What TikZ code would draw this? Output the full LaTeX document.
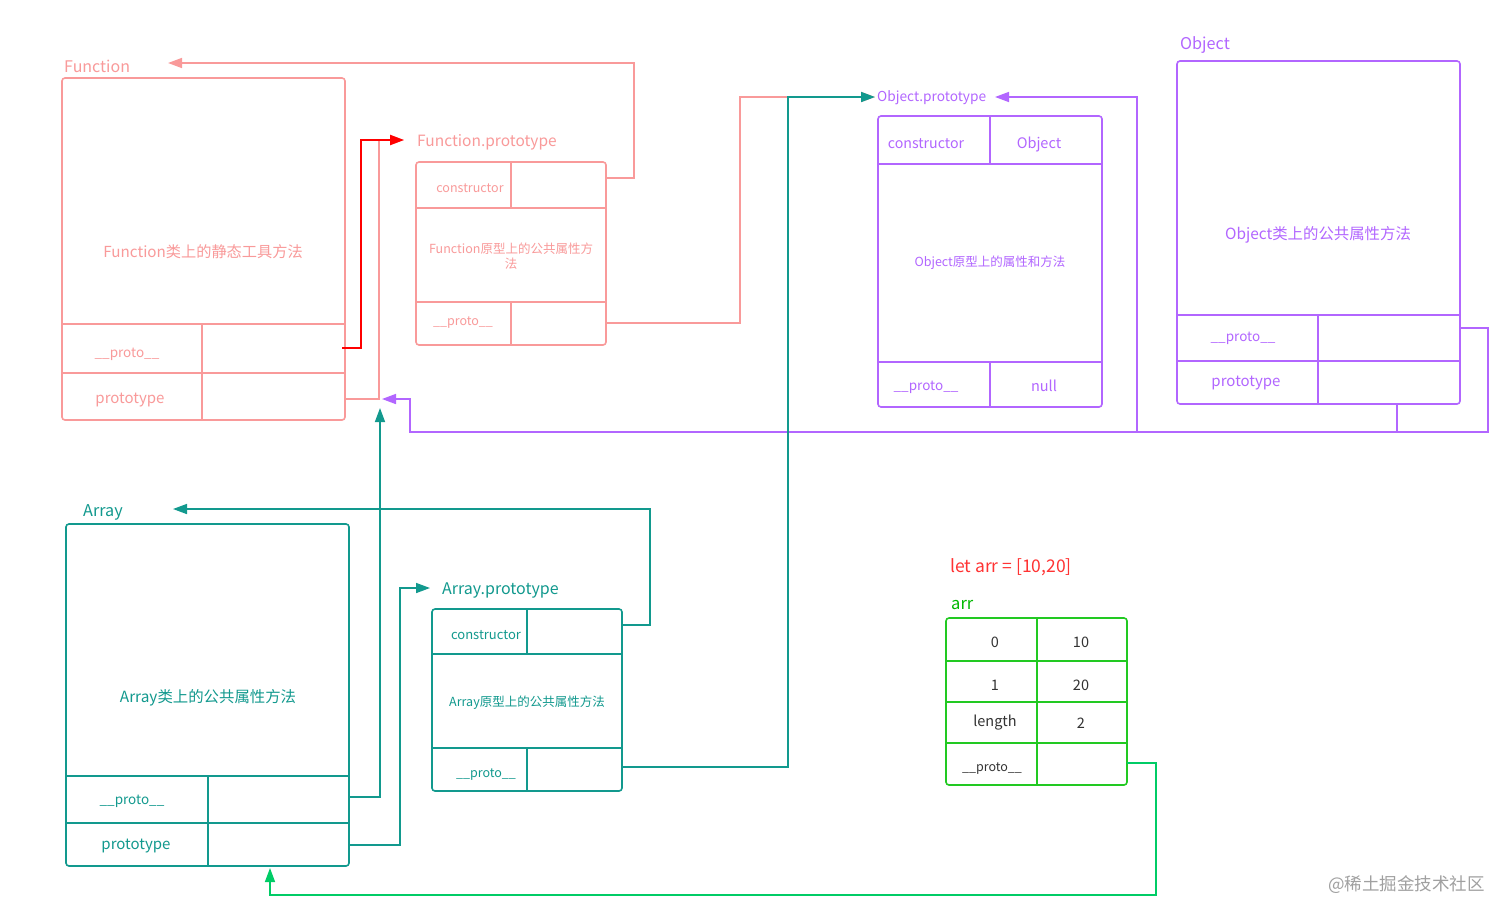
\documentclass[tikz,border=0pt]{standalone}
\usepackage{fontspec}
\setmainfont{Noto Sans CJK SC}
\usetikzlibrary{arrows.meta}
\definecolor{pk}{HTML}{F99A9A}
\definecolor{rd}{HTML}{FF0000}
\definecolor{pu}{HTML}{B266FF}
\definecolor{tl}{HTML}{12998E}
\definecolor{gb}{HTML}{22C922}
\definecolor{gl}{HTML}{00CC66}
\definecolor{ga}{HTML}{00B800}
\definecolor{lr}{HTML}{FF3333}
\definecolor{wm}{HTML}{A0A0A0}
\definecolor{cellt}{HTML}{333333}
\begin{document}
\begin{tikzpicture}[x=1pt,y=-1pt,
  frame/.style={draw, line width=1.6pt, rounded corners=3pt, inner sep=0pt},
  div/.style={line width=1.5pt},
  conn/.style={line width=1.5pt, -{Triangle[length=14pt,width=10pt]}},
  fs/.style={inner sep=0pt, font=\fontsize{#1}{#1}\selectfont},
  lbl/.style={fs=#1, anchor=west}]
\useasboundingbox[fill=white] (0,0) rectangle (1512,919);

% ---------- Function ----------
\node[frame, draw=pk, minimum width=283pt, minimum height=342pt] (F) at (203.5,249) {};
\draw[div, pk] (62,324) -- (345,324) (62,373) -- (345,373) (202,324) -- (202,420);
\node[lbl=16, text=pk] (Flbl) at (64,66) {Function};
\node[fs=15.2, text=pk] (Fbody) at (203,252) {Function类上的静态工具方法};
\node[fs=13.5, text=pk] (Fpk) at (127,354) {\_\_proto\_\_};
\node[fs=15, text=pk] (Fptk) at (130,400) {prototype};

% ---------- Function.prototype ----------
\node[frame, draw=pk, minimum width=190pt, minimum height=183pt] (FP) at (511,253.5) {};
\draw[div, pk] (416,208) -- (606,208) (416,302) -- (606,302) (511,162) -- (511,208) (511,302) -- (511,345);
\node[lbl=15.5, text=pk] (FPlbl) at (417,142) {Function.prototype};
\node[fs=12.5, text=pk] (FPck) at (470,188) {constructor};
\node[fs=12.5, text=pk, align=center, font=\fontsize{12.5}{15}\selectfont] (FPbody) at (511,256) {Function原型上的公共属性方\\法};
\node[fs=12.5, text=pk] (FPpk) at (463,323) {\_\_proto\_\_};

% ---------- Object.prototype ----------
\node[frame, draw=pu, minimum width=224pt, minimum height=291pt] (OP) at (990,261.5) {};
\draw[div, pu] (878,164) -- (1102,164) (878,362) -- (1102,362) (990,116) -- (990,164) (990,362) -- (990,407);
\node[lbl=13.7, text=pu] (OPlbl) at (877,98) {Object.prototype};
\node[fs=14.2, text=pu] (OPck) at (926,144) {constructor};
\node[fs=14.5, text=pu] (OPcv) at (1039,144) {Object};
\node[fs=12.5, text=pu] (OPbody) at (990,263) {Object原型上的属性和方法};
\node[fs=13.5, text=pu] (OPpk) at (926,387) {\_\_proto\_\_};
\node[fs=14.5, text=pu] (OPpv) at (1044,386) {null};

% ---------- Object ----------
\node[frame, draw=pu, minimum width=283pt, minimum height=343pt] (O) at (1318.5,232.5) {};
\draw[div, pu] (1177,315) -- (1460,315) (1177,361) -- (1460,361) (1318,315) -- (1318,404);
\node[lbl=16.2, text=pu] (Olbl) at (1180,45) {Object};
\node[fs=15.4, text=pu] (Obody) at (1318,235) {Object类上的公共属性方法};
\node[fs=13.5, text=pu] (Opk) at (1243,338) {\_\_proto\_\_};
\node[fs=15, text=pu] (Optk) at (1246,383) {prototype};

% ---------- Array ----------
\node[frame, draw=tl, minimum width=283pt, minimum height=342pt] (A) at (207.5,695) {};
\draw[div, tl] (66,776) -- (349,776) (66,823) -- (349,823) (208,776) -- (208,866);
\node[lbl=16.2, text=tl] (Albl) at (83,512) {Array};
\node[fs=15.4, text=tl] (Abody) at (208,698) {Array类上的公共属性方法};
\node[fs=13.5, text=tl] (Apk) at (132,801) {\_\_proto\_\_};
\node[fs=15, text=tl] (Aptk) at (136,846) {prototype};

% ---------- Array.prototype ----------
\node[frame, draw=tl, minimum width=190pt, minimum height=182pt] (AP) at (527,700) {};
\draw[div, tl] (432,654) -- (622,654) (432,748) -- (622,748) (527,609) -- (527,654) (527,748) -- (527,791);
\node[lbl=16, text=tl] (APlbl) at (442,590) {Array.prototype};
\node[fs=13, text=tl] (APck) at (486,635) {constructor};
\node[fs=12.5, text=tl] (APbody) at (527,703) {Array原型上的公共属性方法};
\node[fs=12.5, text=tl] (APpk) at (486,775) {\_\_proto\_\_};

% ---------- arr ----------
\node[lbl=17.5, text=lr] (let) at (950,567) {let arr = [10,20]};
\node[lbl=16.5, text=ga] (arrlbl) at (951,605) {arr};
\node[frame, draw=gb, minimum width=181pt, minimum height=167pt] (R) at (1036.5,701.5) {};
\draw[div, gb] (946,661) -- (1127,661) (946,702) -- (1127,702) (946,743) -- (1127,743) (1037,618) -- (1037,785);
\node[fs=14.5, text=cellt] (r0k) at (995,642) {0};
\node[fs=14.5, text=cellt] (r0v) at (1081,642) {10};
\node[fs=14.5, text=cellt] (r1k) at (995,685) {1};
\node[fs=14.5, text=cellt] (r1v) at (1081,685) {20};
\node[fs=14.5, text=cellt] (rlk) at (995,723) {length};
\node[fs=14.5, text=cellt] (rlv) at (1081,723) {2};
\node[fs=12.5, text=cellt] (rpk) at (992,769) {\_\_proto\_\_};

\node[lbl=17.5, text=wm] (wmk) at (1328,885) {@稀土掘金技术社区};

% ---------- connector end points ----------
\coordinate (FPc) at (606,178);
\coordinate (FPp) at (606,323);
\coordinate (Fp) at (342,348);
\coordinate (Fpt) at (345,399);
\coordinate (tipF) at (168,63);
\coordinate (tipFP) at (404,140);
\coordinate (tipOP) at (875,97);
\coordinate (tipOPr) at (995,97);
\coordinate (tipFPb) at (382,399);
\coordinate (APc) at (622,625);
\coordinate (APp) at (622,767);
\coordinate (Ap) at (349,797);
\coordinate (Apt) at (349,845);
\coordinate (tipA) at (173,509);
\coordinate (tipAP) at (430,588);
\coordinate (tipFPu) at (380,408);
\coordinate (Opt) at (1397,404);
\coordinate (Op) at (1460,328);
\coordinate (Rp) at (1127,763);
\coordinate (tipAb) at (270,868);

% ---------- connectors ----------
\draw[conn, pk] (FPc) -- (634,178) -- (634,63) -- (tipF);
\draw[conn, pk] (Fpt) -- (379,399) -- (379,140) -- (tipFP);
\draw[conn, rd, line width=2pt] (Fp) -- (361,348) -- (361,140) -- (tipFP);
\draw[conn, pk] (FPp) -- (740,323) -- (740,97) -- (tipOP);
\draw[conn, pu] (Opt) -- (1397,432) -- (1137,432) -- (1137,97) -- (tipOPr);
\draw[conn, pu] (Op) -- (1488,328) -- (1488,432) -- (410,432) -- (410,399) -- (tipFPb);
\draw[conn, tl] (APp) -- (788,767) -- (788,97) -- (tipOP);
\draw[conn, tl] (Ap) -- (380,797) -- (tipFPu);
\draw[conn, tl] (Apt) -- (400,845) -- (400,588) -- (tipAP);
\draw[conn, tl] (APc) -- (650,625) -- (650,509) -- (tipA);
\draw[conn, gl] (Rp) -- (1156,763) -- (1156,895) -- (270,895) -- (tipAb);
\end{tikzpicture}
\end{document}
